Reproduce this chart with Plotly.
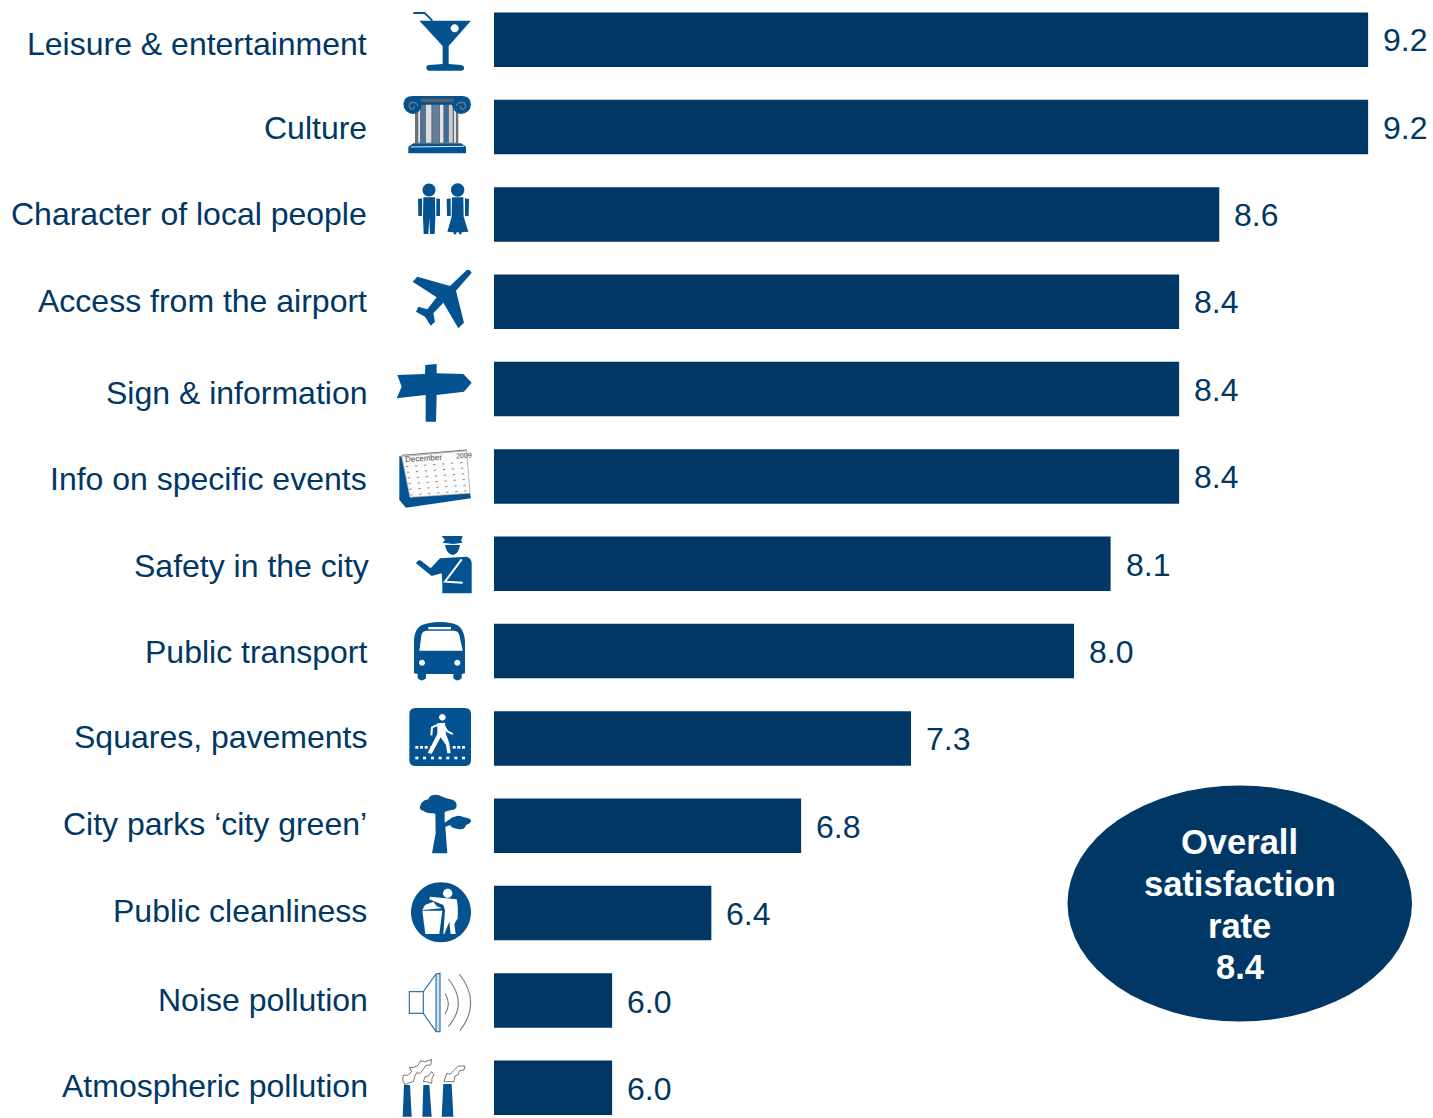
import re
import math
import plotly.graph_objects as go

# ---------- data ----------
categories = ["Leisure & entertainment", "Culture", "Character of local people",
              "Access from the airport", "Sign & information", "Info on specific events",
              "Safety in the city", "Public transport", "Squares, pavements",
              "City parks ‘city green’", "Public cleanliness", "Noise pollution",
              "Atmospheric pollution"]
values = [9.2, 9.2, 8.57, 8.40, 8.40, 8.40, 8.11, 7.955, 7.265, 6.80, 6.42, 6.0, 6.0]
overall_rate = 8.4
overall_lines = ["Overall", "satisfaction", "rate", f"{overall_rate:.1f}"]

# ---------- style / layout ----------
W, H = 1433, 1118
NAVY = "#003764"
ICON = "#04528f"
FONT = "Liberation Sans, Arial, sans-serif"
label_dy = [4, 1, 0, -1, 4, 3, 2, 1, -1, -2, -2, 0, -2]
label_dx = [0, 0, 0, 0, 0, 0, 2, 0, 1, 0, 0, 1, 1]
value_dy = [0, 1, 1, 0, 1, 1, 1, 1, 1, 1, 1, 2, 1]

shapes = []


def conv(oy, d):
    toks = re.findall(r"[MLQCZ]|-?\d+\.?\d*", d)
    out, i = [], 0
    while i < len(toks):
        t = toks[i]
        if t.isalpha():
            out.append(t)
            i += 1
        else:
            x = (390 + float(t) / 3) / W
            y = 1 - (oy + float(toks[i + 1]) / 3) / H
            out.append(f"{x:.5f},{y:.5f}")
            i += 2
    return " ".join(out)


def path(oy, d, fill=ICON, line=None, w=0):
    shapes.append(dict(type="path", xref="paper", yref="paper", path=conv(oy, d),
                       fillcolor=fill, line=dict(color=line or "rgba(0,0,0,0)", width=w),
                       layer="above"))


def stroke(oy, d, color=ICON, w=1.5):
    shapes.append(dict(type="path", xref="paper", yref="paper", path=conv(oy, d),
                       line=dict(color=color, width=w), layer="above"))


def circ(oy, cx, cy, r, fill=ICON):
    k = 0.5523 * r
    path(oy, f"M {cx-r} {cy} C {cx-r} {cy-k} {cx-k} {cy-r} {cx} {cy-r} "
             f"C {cx+k} {cy-r} {cx+r} {cy-k} {cx+r} {cy} "
             f"C {cx+r} {cy+k} {cx+k} {cy+r} {cx} {cy+r} "
             f"C {cx-k} {cy+r} {cx-r} {cy+k} {cx-r} {cy} Z", fill)


def rect(oy, a, b, c, d, fill=ICON):
    path(oy, f"M {a} {b} L {c} {b} L {c} {d} L {a} {d} Z", fill)


# martini
path(0, "M 88 62 L 243 62 L 176 138 L 176 192 L 214 195 Q 224 198 222 208 Q 220 212 214 212 "
        "L 116 212 Q 106 208 110 198 Q 112 195 118 195 L 158 192 L 158 138 Z")
circ(0, 194, 85, 12, "white")
stroke(0, "M 70 39 L 104 39 L 127 62", ICON, 1.8)

# column
rect(0, 75, 310, 205, 430, "#6b7075")
for a, b, c in [(85, 90, "#e6e8ea"), (92, 105, "#4d7396"), (108, 124, "#d9dde0"), (128, 147, "#5f7f9c"),
                (150, 160, "#e2e5e7"), (162, 174, "#3f6c94"), (177, 188, "#c9ced2"), (192, 198, "#e0e3e5")]:
    rect(0, a, 312, b, 428, c)
path(0, "M 40 312 Q 42 288 68 288 L 218 288 Q 243 290 243 315 Q 240 340 212 342 Q 192 340 186 314 "
        "L 95 314 Q 92 340 68 342 Q 42 338 40 312 Z")
rect(0, 92, 296, 192, 306, "#5b6066")
stroke(0, "M 84 318 Q 78 304 62 308 Q 52 318 64 328 Q 74 328 72 318", "#777c82", 1.2)
stroke(0, "M 198 318 Q 206 304 222 308 Q 232 318 220 328 Q 210 328 212 318", "#777c82", 1.2)
path(0, "M 70 430 L 213 430 L 228 440 L 228 460 L 55 460 L 55 440 Z")
stroke(0, "M 62 441 L 222 439", "#e6e8ea", 1)

# people
circ(0, 117, 570, 19.5)
path(0, "M 100 592 L 135 592 L 136 650 L 134 702 L 120 702 L 118 655 L 115 702 L 101 702 L 99 650 Z")
path(0, "M 84 597 L 96 595 L 96 648 L 85 648 Z")
path(0, "M 139 595 L 150 597 L 150 648 L 139 648 Z")
circ(0, 203, 570, 20)
path(0, "M 186 592 L 220 592 L 221 650 L 235 695 L 215 697 L 214 703 L 208 703 L 206 697 L 200 697 "
        "L 198 703 L 192 703 L 190 697 L 172 695 L 185 650 Z")
path(0, "M 170 597 L 182 595 L 182 648 L 171 648 Z")
path(0, "M 225 595 L 237 597 L 236 648 L 225 648 Z")

# plane
path(260, "M 228 32 Q 238 25 245 38 L 198 92 L 222 188 L 205 205 L 160 128 L 130 160 L 135 185 "
          "L 122 197 L 105 170 L 78 155 L 85 140 L 112 148 L 140 112 L 68 65 L 82 50 L 180 78 Z")
# signpost
path(260, "M 22 345 L 105 342 L 106 315 L 140 312 L 140 340 L 220 342 L 245 368 L 222 395 "
          "L 140 405 L 138 485 L 107 485 L 107 405 L 20 415 L 35 380 Z")
# calendar
path(260, "M 28 588 L 36 590 L 60 712 L 240 700 L 243 715 L 48 743 L 28 720 Z")
path(260, "M 35 590 L 230 572 L 240 700 L 60 712 Z", "#fbfbfb", "#9a9a9a", 0.7)
stroke(260, "M 35 586 L 230 570", "#777777", 1)
for r in range(6):
    for c in range(7):
        x = 48 + r * 2.5 + c * 27
        y = 620 - c * 2 + r * 17
        stroke(260, f"M {x} {y} L {x+7} {y-0.5}", "#8a8a8a", 1)

# policeman
path(530, "M 155 18 L 218 18 L 213 32 L 218 38 L 190 42 L 158 38 L 165 30 Z")
path(530, "M 165 45 L 210 45 Q 205 75 188 75 Q 170 72 165 45 Z")
path(530, "M 78 100 Q 85 85 97 95 L 122 115 L 150 85 L 230 80 Q 245 85 245 100 L 245 190 "
          "L 157 190 L 157 160 L 155 130 L 125 138 Z")
stroke(530, "M 215 88 L 165 155 L 218 158", "white", 2)

# bus
path(530, "M 72 430 L 72 335 Q 72 285 115 280 Q 150 272 185 280 Q 222 285 225 335 L 225 430 "
          "L 215 432 L 215 445 Q 202 458 190 445 L 190 432 L 108 432 L 108 445 Q 95 458 83 445 L 83 432 Z")
path(530, "M 95 312 Q 100 302 110 302 L 190 302 Q 205 302 208 315 L 218 362 L 88 362 Z", "white")
rect(530, 115, 291, 183, 298, "white")
circ(530, 96, 398, 9, "white")
circ(530, 202, 398, 9, "white")

# pedestrian sign
path(530, "M 76 534 L 225 534 Q 243 534 243 552 L 243 690 Q 243 708 225 708 L 76 708 "
          "Q 58 708 58 690 L 58 552 Q 58 534 76 534 Z")
circ(530, 157, 562, 10, "white")
path(530, "M 142 580 L 165 578 L 168 612 L 178 640 L 182 670 L 172 670 L 168 645 L 152 622 "
          "L 125 672 L 113 668 L 142 612 Z", "white")
stroke(530, "M 146 583 L 126 592 L 124 616", "white", 2)
stroke(530, "M 160 585 L 172 604 L 188 612", "white", 2)
for x in [80, 94, 108, 125, 192, 206, 220]:
    rect(530, x - 4, 648, x + 5, 656, "white")
for x in [80, 103, 127, 150, 173, 197, 220]:
    rect(530, x - 4, 680, x + 5, 688, "white")

# tree
path(780, "M 90 80 Q 95 60 115 58 Q 120 42 145 45 Q 165 55 190 60 Q 208 72 195 88 Q 175 92 165 95 "
          "Q 150 108 130 100 Q 110 100 100 92 Q 88 90 90 80 Z")
path(780, "M 190 112 Q 205 102 222 112 Q 245 115 243 125 Q 235 135 228 135 Q 225 150 205 147 "
          "Q 185 145 180 135 Z")
path(780, "M 136 95 L 164 95 L 164 128 L 190 110 L 195 130 L 166 140 L 172 220 L 126 220 L 137 160 Z")

# bin sign
circ(780, 153, 397, 90)
path(780, "M 97 392 L 157 392 L 148 462 L 106 462 Z", "white")
path(780, "M 105 375 L 130 365 L 140 378 L 155 385 L 97 390 Z", "white")
circ(780, 173, 340, 14, "white")
path(780, "M 120 350 L 200 358 Q 205 380 203 415 L 193 432 L 197 462 L 182 462 L 178 425 L 163 462 "
          "L 160 462 L 165 390 L 160 375 L 118 358 Z", "white")

# speaker
SPK = "#2e75ad"
path(780, "M 138 582 L 150 580 L 150 755 L 138 755 Z", "#cfe0ee", SPK, 1.2)
stroke(780, "M 138 582 L 100 635 L 58 635 L 58 700 L 100 700 L 138 755", SPK, 1.2)
stroke(780, "M 100 635 L 100 700", SPK, 1.2)
stroke(780, "M 165 640 Q 185 672 165 702", "#777777", 1.1)
stroke(780, "M 175 597 Q 235 670 175 740", "#777777", 1.1)
stroke(780, "M 208 582 Q 275 668 210 752", "#777777", 1.1)

# factories
path(780, "M 42 915 L 60 915 L 65 1010 L 38 1010 Z")
path(780, "M 100 915 L 118 915 L 125 1010 L 97 1010 Z")
path(780, "M 160 912 L 185 912 L 190 1010 L 155 1010 Z")
SMK = "#777777"
path(780, "M 38 900 L 40 885 L 52 886 L 65 875 L 58 862 L 72 862 L 85 855 L 92 842 L 104 846 L 125 838 "
          "L 122 855 L 108 856 L 100 868 L 90 880 L 80 878 L 75 888 L 70 905 L 58 908 L 45 915 Z",
     "white", SMK, 1)
path(780, "M 100 905 L 105 890 L 115 888 L 125 875 L 132 885 L 126 895 L 125 910 L 110 905 Z",
     "white", SMK, 1)
path(780, "M 162 905 L 170 880 L 182 882 L 190 872 L 205 858 L 225 858 L 222 870 L 208 872 L 205 884 "
          "L 195 888 L 192 905 Z", "white", SMK, 1)

# overall ellipse
shapes.append(dict(type="circle", xref="paper", yref="paper",
                   x0=1067.5 / W, x1=1412 / W, y0=1 - 1021.5 / H, y1=1 - 785.5 / H,
                   fillcolor=NAVY, line=dict(width=0), layer="above"))

# ---------- annotations ----------
ann = []
for i, c in enumerate(categories):
    ann.append(dict(text=c, xref="x domain", x=0, xshift=-125.5 + label_dx[i], xanchor="right",
                    yref="y", y=c, yshift=-label_dy[i], yanchor="middle", showarrow=False,
                    font=dict(family=FONT, size=32, color=NAVY)))
for i, (c, v) in enumerate(zip(categories, values)):
    ann.append(dict(text=f"{v:.1f}", xref="x", x=v, xshift=13, xanchor="left",
                    yref="y", y=c, yshift=-value_dy[i], yanchor="middle", showarrow=False,
                    font=dict(family=FONT, size=32, color=NAVY)))
for line, py in zip(overall_lines, [842, 884, 926, 967]):
    ann.append(dict(text=f"<b>{line}</b>", xref="paper", yref="paper", x=1239.5 / W, y=1 - py / H,
                    xanchor="center", yanchor="middle", showarrow=False,
                    font=dict(family=FONT, size=34.5, color="white")))
# calendar header text
ann.append(dict(text="December", xref="paper", yref="paper", x=403 / W, y=1 - 458 / H, xanchor="left",
                yanchor="middle", showarrow=False, textangle=-4,
                font=dict(family=FONT, size=8, color="#444444")))
ann.append(dict(text="2009", xref="paper", yref="paper", x=454 / W, y=1 - 455 / H, xanchor="left",
                yanchor="middle", showarrow=False, textangle=-4,
                font=dict(family=FONT, size=7, color="#444444")))

# ---------- figure ----------
fig = go.Figure(go.Bar(x=values, y=categories, orientation="h", marker=dict(color=NAVY, line=dict(width=0))))
unit = 236.25
step = 87.33
fig.update_layout(
    width=W, height=H, margin=dict(l=0, r=0, t=0, b=0, pad=0),
    paper_bgcolor="white", plot_bgcolor="white", bargap=0.376, showlegend=False,
    shapes=shapes, annotations=ann,
    xaxis=dict(domain=[494 / W, 1], range=[5.5, 5.5 + (W - 494) / unit], visible=False),
    yaxis=dict(type="category", categoryorder="array", categoryarray=categories,
               range=[(H - 39.75) / step, -39.75 / step], visible=False),
)
fig.write_html("out.html", config={"displayModeBar": False},
               post_script="document.body.style.margin='0';document.documentElement.style.overflow='hidden';")
